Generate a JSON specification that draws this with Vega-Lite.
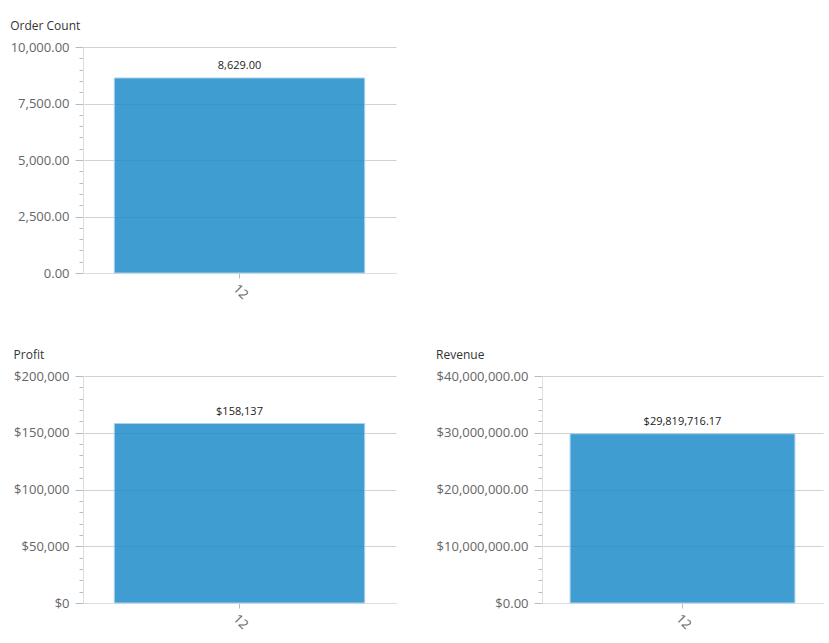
{
  "$schema": "https://vega.github.io/schema/vega-lite/v6.json",
  "padding": {"left": 10, "top": 20, "right": 4, "bottom": 4},
  "background": "white",
  "data": {"values": [{"month": "12", "order_count": 8629, "profit": 158137, "revenue": 29819716.17}]},
  "config": {
    "view": {"stroke": null},
    "font": "Open Sans",
    "title": {"font": "Open Sans", "fontSize": 12, "fontWeight": "normal", "color": "#333", "anchor": "start", "frame": "bounds", "offset": 8},
    "axis": {"labelFont": "Open Sans", "labelFontSize": 13, "labelColor": "#666", "domainColor": "#ddd", "tickColor": "#bbb", "gridColor": "#d2d2d2", "title": null, "labelOverlap": false},
    "axisX": {"labelAngle": 45, "grid": false, "tickSize": 5, "labelPadding": 4},
    "axisY": {"labelFlush": false, "labelPadding": 6}
  },
  "spacing": 47,
  "vconcat": [
    {
      "title": {"text": "Order Count"},
      "width": 313,
      "height": 226,
      "encoding": {
        "x": {"field": "month", "type": "nominal", "scale": {"paddingInner": 0, "paddingOuter": 0.125}},
        "y": {"field": "order_count", "type": "quantitative", "scale": {"domain": [0, 10000], "nice": false},
          "axis": {
            "values": [0,500,1000,1500,2000,2500,3000,3500,4000,4500,5000,5500,6000,6500,7000,7500,8000,8500,9000,9500,10000],
            "labelExpr": "datum.value % 2500 === 0 ? format(datum.value, ',.2f') : ''",
            "tickSize": {"condition": {"test": "datum.value % 2500 === 0", "value": 8}, "value": 4},
            "gridOpacity": {"condition": {"test": "datum.value % 2500 === 0", "value": 1}, "value": 0}
          }}
      },
      "layer": [
        {"mark": {"type": "bar", "fill": "#1d8cc9", "fillOpacity": 0.85, "stroke": "#a9d2ec", "strokeWidth": 1}},
        {"mark": {"type": "text", "baseline": "bottom", "dy": -7, "fontSize": 11, "color": "#222", "font": "Open Sans"},
          "encoding": {"text": {"field": "order_count", "type": "quantitative", "format": ",.2f"}}}
      ]
    },
    {
      "spacing": 40,
      "hconcat": [
        {
          "title": {"text": "Profit"},
          "width": 313,
          "height": 227,
          "encoding": {
            "x": {"field": "month", "type": "nominal", "scale": {"paddingInner": 0, "paddingOuter": 0.125}},
            "y": {"field": "profit", "type": "quantitative", "scale": {"domain": [0, 200000], "nice": false},
              "axis": {
                "values": [0,10000,20000,30000,40000,50000,60000,70000,80000,90000,100000,110000,120000,130000,140000,150000,160000,170000,180000,190000,200000],
                "labelExpr": "datum.value % 50000 === 0 ? format(datum.value, '$,.0f') : ''",
                "tickSize": {"condition": {"test": "datum.value % 50000 === 0", "value": 8}, "value": 4},
                "gridOpacity": {"condition": {"test": "datum.value % 50000 === 0", "value": 1}, "value": 0}
              }}
          },
          "layer": [
            {"mark": {"type": "bar", "fill": "#1d8cc9", "fillOpacity": 0.85, "stroke": "#a9d2ec", "strokeWidth": 1}},
            {"mark": {"type": "text", "baseline": "bottom", "dy": -7, "fontSize": 11, "color": "#222", "font": "Open Sans"},
              "encoding": {"text": {"field": "profit", "type": "quantitative", "format": "$,.0f"}}}
          ]
        },
        {
          "title": {"text": "Revenue"},
          "width": 281,
          "height": 227,
          "encoding": {
            "x": {"field": "month", "type": "nominal", "scale": {"paddingInner": 0, "paddingOuter": 0.125}},
            "y": {"field": "revenue", "type": "quantitative", "scale": {"domain": [0, 40000000], "nice": false},
              "axis": {
                "values": [0,2000000,4000000,6000000,8000000,10000000,12000000,14000000,16000000,18000000,20000000,22000000,24000000,26000000,28000000,30000000,32000000,34000000,36000000,38000000,40000000],
                "labelExpr": "datum.value % 10000000 === 0 ? format(datum.value, '$,.2f') : ''",
                "tickSize": {"condition": {"test": "datum.value % 10000000 === 0", "value": 8}, "value": 4},
                "gridOpacity": {"condition": {"test": "datum.value % 10000000 === 0", "value": 1}, "value": 0}
              }}
          },
          "layer": [
            {"mark": {"type": "bar", "fill": "#1d8cc9", "fillOpacity": 0.85, "stroke": "#a9d2ec", "strokeWidth": 1}},
            {"mark": {"type": "text", "baseline": "bottom", "dy": -7, "fontSize": 11, "color": "#222", "font": "Open Sans"},
              "encoding": {"text": {"field": "revenue", "type": "quantitative", "format": "$,.2f"}}}
          ]
        }
      ]
    }
  ]
}
